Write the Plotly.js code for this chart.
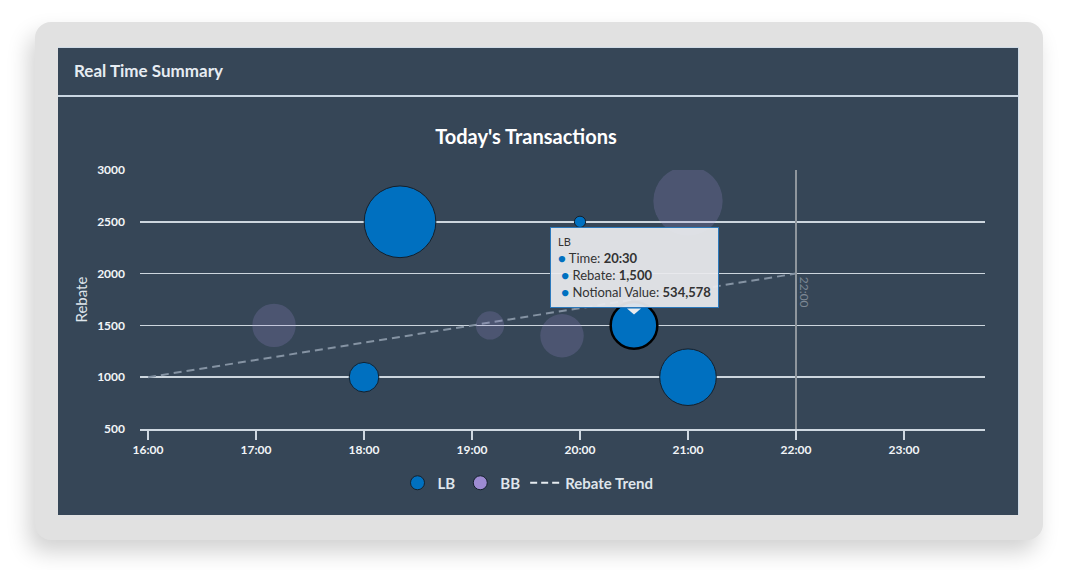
<!DOCTYPE html>
<html>
<head>
<meta charset="utf-8">
<script src="https://cdn.plot.ly/plotly-3.0.1.min.js"></script>
<style>
  html, body { margin:0; padding:0; width:1077px; height:570px; background:#ffffff; overflow:hidden; font-family: Lato, "Noto Sans", sans-serif; }
  #card { position:absolute; left:35px; top:22px; width:1008px; height:518px; background:#e1e1e1; border-radius:16px; box-shadow:-6px 12px 22px rgba(0,0,0,0.18); }
  #panel { position:absolute; left:58px; top:47px; width:961px; height:468px; background:#364657; border-top:1px solid #cfdbe6; border-right:1px solid #cfdbe6; box-sizing:border-box; }
  #header { position:absolute; left:74px; top:60px; color:#e6ecf2; font-weight:bold; font-size:17px; font-family: Lato, "Noto Sans", sans-serif; }
  #sep { position:absolute; left:58px; top:95px; width:961px; height:2px; background:#c9d6e2; }
  #chart { position:absolute; left:0; top:0; width:1077px; height:570px; }
</style>
</head>
<body>
<div id="card"></div>
<div id="panel"></div>
<div id="header">Real Time Summary</div>
<div id="sep"></div>
<div id="chart"></div>
<script>
// ---- data ----
const day = '2024-01-01 ';
const lbTimes = ['18:00', '18:20', '20:00', '20:30', '21:00'];
const lbRebate = [1000, 2500, 2500, 1500, 1000];
const lbNotional = [216000, 1262000, 31000, 534578, 786000];

const bbTimes = ['17:10', '19:10', '19:50', '21:00'];
const bbRebate = [1500, 1500, 1400, 2700];
const bbNotional = [463000, 196000, 463000, 1179000];

const trendTimes = ['16:00', '22:00'];
const trendRebate = [1000, 2000];

const xTickLabels = ['16:00', '17:00', '18:00', '19:00', '20:00', '21:00', '22:00', '23:00'];
const markerLineTime = '22:00';
const hoveredIndex = 3; // LB point shown in tooltip

// ---- styling ----
const FONT = 'Lato, "Noto Sans", sans-serif';
const LB_COLOR = '#0070c0';
const BB_COLOR = '#9d8bd2';
const sizeref = 491;
const toX = t => day + t;

const lbLineW = lbTimes.map((_, i) => i === hoveredIndex ? 2.5 : 1);
const lbLineC = lbTimes.map((_, i) => i === hoveredIndex ? '#000000' : '#14202c');

const traces = [
  {
    type: 'scatter', mode: 'lines', name: 'Rebate Trend',
    x: trendTimes.map(toX), y: trendRebate,
    line: { color: '#8593a3', width: 2, dash: '8px,5px' },
    showlegend: false, hoverinfo: 'skip'
  },
  {
    type: 'scatter', mode: 'markers', name: 'BB',
    x: bbTimes.map(toX), y: bbRebate,
    marker: { size: bbNotional, sizemode: 'area', sizeref: sizeref, opacity: 1,
              color: 'rgba(157,139,210,0.22)', line: { width: 0 } },
    showlegend: false
  },
  {
    type: 'scatter', mode: 'markers', name: 'LB',
    x: lbTimes.map(toX), y: lbRebate,
    marker: { size: lbNotional, sizemode: 'area', sizeref: sizeref, opacity: 1,
              color: LB_COLOR, line: { width: lbLineW, color: lbLineC } },
    showlegend: false
  },
  // legend entries
  { type: 'scatter', mode: 'markers', name: 'LB', x: [null], y: [null], marker: { size: 14, color: LB_COLOR, line: { width: 1, color: '#14202c' } } },
  { type: 'scatter', mode: 'markers', name: 'BB', x: [null], y: [null], marker: { size: 14, color: BB_COLOR, line: { width: 1, color: '#14202c' } } },
  { type: 'scatter', mode: 'lines', name: 'Rebate Trend', x: [null], y: [null], line: { color: '#e6ebf0', width: 2, dash: '7px,4px' } }
];

const hp = lbTimes[hoveredIndex];
const tipText =
  '<span style="font-size:11px">LB</span><br>' +
  '<span style="color:' + LB_COLOR + '">●</span> Time: <b>' + hp + '</b><br>' +
  ' <span style="color:' + LB_COLOR + '">●</span> Rebate: <b>' + lbRebate[hoveredIndex].toLocaleString('en-US') + '</b><br>' +
  ' <span style="color:' + LB_COLOR + '">●</span> Notional Value: <b>' + lbNotional[hoveredIndex].toLocaleString('en-US') + '</b>';

const layout = {
  width: 1077, height: 570,
  paper_bgcolor: 'rgba(0,0,0,0)', plot_bgcolor: 'rgba(0,0,0,0)',
  margin: { l: 140, r: 92, t: 170, b: 141 },
  font: { family: FONT, color: '#eef2f6' },
  title: {
    text: "Today's Transactions",
    font: { family: FONT, size: 20, color: '#ffffff', weight: 'bold' },
    xref: 'container', x: 526 / 1077, xanchor: 'center',
    yref: 'container', y: 1 - 137 / 570, yanchor: 'middle'
  },
  xaxis: {
    type: 'date',
    range: [day + '15:55:33', day + '23:45'],
    tickvals: xTickLabels.map(toX), ticktext: xTickLabels,
    showgrid: false, zeroline: false,
    showline: true, linecolor: '#cfd8e1', linewidth: 1.5,
    ticks: 'outside', ticklen: 9, tickwidth: 1.5, tickcolor: '#cfd8e1',
    tickfont: { family: FONT, size: 12, color: '#f2f5f8', weight: 'bold' }
  },
  yaxis: {
    range: [500, 3000], dtick: 500, tick0: 500,
    showgrid: true, gridcolor: '#cdd6de', gridwidth: 1.5,
    zeroline: false, showline: false, ticks: '',
    ticklabelstandoff: 14,
    tickfont: { family: FONT, size: 12, color: '#f2f5f8', weight: 'bold' }
  },
  legend: {
    orientation: 'h', xref: 'container', yref: 'container',
    x: 528 / 1077, xanchor: 'center', y: 1 - 483 / 570, yanchor: 'middle',
    font: { family: FONT, size: 15, color: '#dfe5eb', weight: 'bold' },
    itemwidth: 30, tracegroupgap: 0, bgcolor: 'rgba(0,0,0,0)'
  },
  shapes: [
    { type: 'line', xref: 'x', yref: 'paper', x0: toX(markerLineTime), x1: toX(markerLineTime), y0: 0, y1: 1,
      line: { color: '#8f969d', width: 2 } },
    { type: 'path', xref: 'x', yref: 'y', xsizemode: 'pixel', ysizemode: 'pixel',
      xanchor: toX(hp), yanchor: lbRebate[hoveredIndex],
      path: 'M-7,17 L7,17 L0,11 Z', fillcolor: '#e9ebee', line: { width: 0 } }
  ],
  annotations: [
    { xref: 'paper', yref: 'paper', x: 0, y: 0.5, xshift: -60, xanchor: 'center', yanchor: 'middle', showarrow: false,
      text: 'Rebate', textangle: -90, font: { family: FONT, size: 15, color: '#dfe5eb' } },
    { xref: 'x', yref: 'y', x: toX(markerLineTime), y: 1825, xshift: 8, showarrow: false,
      text: markerLineTime, textangle: 90, font: { family: FONT, size: 12, color: '#7d8894' } },
    { xref: 'x', yref: 'y', x: toX(hp), y: lbRebate[hoveredIndex], showarrow: false,
      xanchor: 'center', yanchor: 'bottom', yshift: 17, align: 'left',
      text: tipText, bgcolor: 'rgba(233,235,238,0.93)', bordercolor: '#2b78bb', borderwidth: 1, borderpad: 7,
      font: { family: FONT, size: 13, color: '#333333' } }
  ]
};

Plotly.newPlot('chart', traces, layout, { displayModeBar: false, staticPlot: true });
</script>
</body>
</html>
